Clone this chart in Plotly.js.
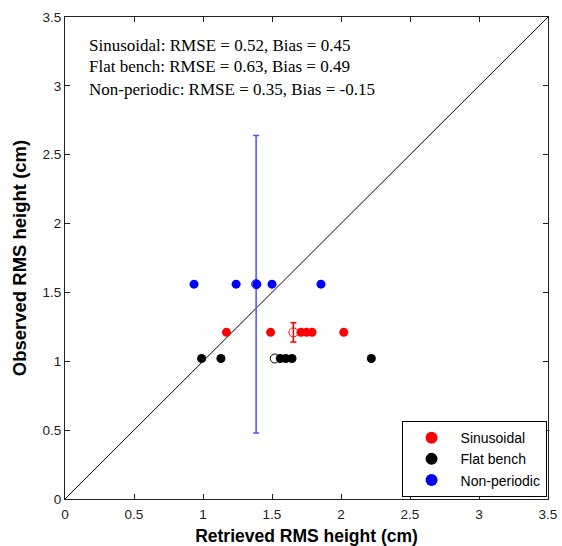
<!DOCTYPE html>
<html><head><meta charset="utf-8">
<script src="https://cdn.plot.ly/plotly-3.0.1.min.js"></script>
<style>html,body{margin:0;padding:0;background:#fff;}#chart{width:562px;height:546px;}</style>
</head><body><div id="chart"></div>
<script>
// Retrieved (x) vs observed (y) RMS height, cm
const sinX = [1.17, 1.49, 1.71, 1.75, 1.79, 2.02];
const sinY = [1.21, 1.21, 1.21, 1.21, 1.21, 1.21];
const flatX = [0.99, 1.13, 1.56, 1.60, 1.645, 2.22];
const flatY = [1.02, 1.02, 1.02, 1.02, 1.02, 1.02];
const nonX = [0.935, 1.24, 1.39, 1.50, 1.855];
const nonY = [1.56, 1.56, 1.56, 1.56, 1.56];
// group means with error bars
const meanNames = ["Sinusoidal", "Flat bench", "Non-periodic"];
const meanX = [1.655, 1.52, 1.385];
const meanY = [1.21, 1.02, 1.56];
const meanErr = [0.07, 0.0, 1.08];
const colors = ["#ff0000", "#000000", "#0000ff"];
const errColors = ["#ff0000", "#000000", "#5050ff"];
const stats = [
  "Sinusoidal: RMSE = 0.52, Bias = 0.45",
  "Flat bench: RMSE = 0.63, Bias = 0.49",
  "Non-periodic: RMSE = 0.35, Bias = -0.15"
];
const tickVals = [0, 0.5, 1, 1.5, 2, 2.5, 3, 3.5];
const tickText = ["0", "0.5", "1", "1.5", "2", "2.5", "3", "3.5"];
const lineXY = [0, 3.5];

const traces = [];
traces.push({x: lineXY, y: lineXY, mode: "lines", line: {color: "#000", width: 1}, showlegend: false, hoverinfo: "skip"});
for (let i = 0; i < 3; i++) {
  traces.push({
    x: [meanX[i]], y: [meanY[i]], mode: "markers", showlegend: false,
    marker: {symbol: "circle-open", size: 9, color: colors[i], line: {width: 1, color: colors[i]}},
    error_y: {type: "data", array: [meanErr[i]], visible: meanErr[i] > 0, color: errColors[i], thickness: 1.5, width: 3}
  });
}
const series = [[sinX, sinY], [flatX, flatY], [nonX, nonY]];
for (let i = 0; i < 3; i++) {
  traces.push({
    x: series[i][0], y: series[i][1], mode: "markers", name: meanNames[i],
    marker: {symbol: "circle", size: 9, color: colors[i]}
  });
}

const axisCommon = {
  range: [0, 3.5], tickvals: tickVals, ticktext: tickText,
  ticks: "inside", ticklen: 5, tickcolor: "#222", mirror: "ticks",
  showline: true, linecolor: "#222", linewidth: 1, showgrid: false, zeroline: false,
  tickfont: {family: "Arial, Liberation Sans, sans-serif", size: 13.5, color: "#222"}
};
const annotations = stats.map((t, i) => ({
  text: t, xref: "paper", yref: "paper", x: 22 / 483, y: 1 - (45 + 22 * i - 17) / 482,
  xanchor: "left", yanchor: "middle", showarrow: false, align: "left",
  font: {family: "Liberation Serif, Times New Roman, serif", size: 17, color: "#000"}
}));

const layout = {
  width: 562, height: 546,
  margin: {l: 65, r: 14, t: 17, b: 47},
  paper_bgcolor: "#fff", plot_bgcolor: "#fff",
  showlegend: true,
  legend: {
    x: 0.997, y: 0.004, xanchor: "right", yanchor: "bottom",
    bordercolor: "#000", borderwidth: 1, bgcolor: "#fff",
    font: {family: "Arial, Liberation Sans, sans-serif", size: 14, color: "#000"},
    tracegroupgap: 0, itemsizing: "constant", itemwidth: 48
  },
  xaxis: Object.assign({}, axisCommon, {
    ticklabelstandoff: 3,
    title: {text: "Retrieved RMS height (cm)", standoff: 12,
      font: {family: "Arial, Liberation Sans, sans-serif", size: 17.5, color: "#000", weight: "bold"}}
  }),
  yaxis: Object.assign({}, axisCommon, {
    title: {text: "Observed RMS height (cm)", standoff: 11,
      font: {family: "Arial, Liberation Sans, sans-serif", size: 18.5, color: "#000", weight: "bold"}}
  }),
  annotations: annotations
};
Plotly.newPlot("chart", traces, layout, {staticPlot: true, displayModeBar: false});
</script></body></html>
